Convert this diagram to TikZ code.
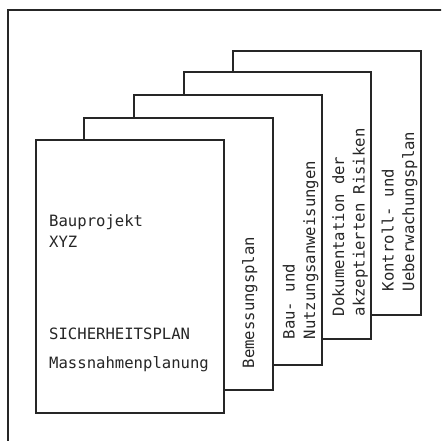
\documentclass[tikz,border=0pt]{standalone}
\usepackage{fontspec}
\setmonofont{DejaVu Sans Mono}
\tikzset{
  sheet/.style={draw=black!85,line width=1.7pt,fill=white,anchor=north west,inner sep=0pt},
  label/.style={text=black!85,inner sep=0pt,anchor=base west,font=\ttfamily\fontsize{15.6}{20}\selectfont},
  spine/.style={label,rotate=90}
}
\begin{document}
\begin{tikzpicture}[x=1pt,y=-1pt]
\useasboundingbox (0,0) rectangle (441,441);
\clip (0,0) rectangle (441,441);
% Frame
\draw[black!85,line width=1.7pt] (8,460) -- (8,10) -- (460,10);

% Sheets, back to front
\node[sheet,minimum width=188pt,minimum height=264pt] (sheetE) at (232,50) {};
\node[sheet,minimum width=187pt,minimum height=267pt] (sheetD) at (183,71) {};
\node[sheet,minimum width=188pt,minimum height=270pt] (sheetC) at (133,94) {};
\node[sheet,minimum width=189pt,minimum height=272pt] (sheetB) at (83,117) {};
\node[sheet,minimum width=188pt,minimum height=273pt] (sheetA) at (35,139) {};

% Front sheet
\node[label] (proj) at (49,226) {Bauprojekt};
\node[label] (xyz) at (49,247) {XYZ};
\node[label] (plan) at (49,339) {SICHERHEITSPLAN};
\node[label] (mass) at (49,368) {Massnahmenplanung};

% Spines
\node[spine] (bem) at (254,368.5) {Bemessungsplan};
\node[spine] (bau) at (294.5,339.5) {Bau- und};
\node[spine] (nutz) at (315,339.5) {Nutzungsanweisungen};
\node[spine] (doku) at (344,316.5) {Dokumentation der};
\node[spine] (akz) at (364.5,316.5) {akzeptierten Risiken};
\node[spine] (kon) at (393.5,291.5) {Kontroll- und};
\node[spine] (ueb) at (414,291.5) {Ueberwachungsplan};
\end{tikzpicture}
\end{document}
